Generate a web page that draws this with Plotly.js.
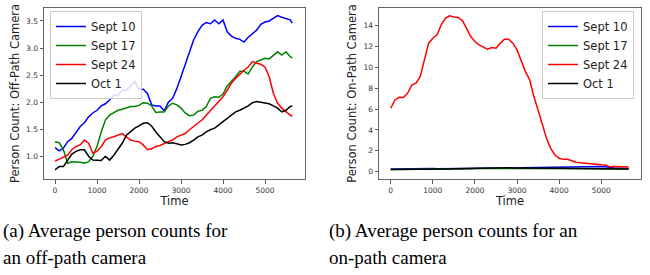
<!DOCTYPE html>
<html><head><meta charset="utf-8">
<script src="https://cdn.plot.ly/plotly-3.0.1.min.js"></script>
<style>html,body{margin:0;padding:0;background:#fff;}#chart{width:650px;height:275px;}</style>
</head><body><div id="chart"></div>
<script>
// Time axis (shared by all series)
const time = [0,100,200,300,400,500,600,700,800,900,1000,1100,1200,1300,1400,1500,1600,1700,1800,1900,2000,2100,2200,2300,2400,2500,2600,2700,2800,2900,3000,3100,3200,3300,3400,3500,3600,3700,3800,3900,4000,4100,4200,4300,4400,4500,4600,4700,4800,4900,5000,5100,5200,5300,5400,5500,5600,5650];
const seriesNames = ["Sept 10","Sept 17","Sept 24","Oct 1"];

// (a) off-path camera
const offSept10 = [1.16,1.10,1.15,1.27,1.33,1.45,1.55,1.62,1.73,1.80,1.85,1.93,1.97,2.04,2.13,2.12,2.22,2.22,2.30,2.38,2.24,2.24,2.16,1.95,1.93,1.93,1.84,2.00,2.07,2.25,2.47,2.69,2.90,3.15,3.30,3.42,3.47,3.45,3.52,3.45,3.52,3.30,3.22,3.18,3.16,3.11,3.20,3.27,3.33,3.44,3.48,3.50,3.55,3.60,3.57,3.55,3.52,3.46];
const offSept17 = [1.27,1.25,1.12,0.87,0.90,0.90,0.89,0.87,0.90,1.00,1.18,1.45,1.67,1.76,1.81,1.85,1.87,1.90,1.92,1.92,1.94,1.99,1.98,1.93,1.81,1.82,1.82,1.93,1.98,1.95,1.89,1.80,1.75,1.76,1.83,1.85,1.92,2.07,2.10,2.09,2.15,2.30,2.38,2.47,2.57,2.57,2.52,2.65,2.75,2.78,2.81,2.80,2.87,2.93,2.87,2.93,2.84,2.82];
const offSept24 = [0.91,0.95,0.99,1.02,1.12,1.18,1.21,1.30,1.24,1.06,1.09,1.18,1.30,1.34,1.36,1.39,1.42,1.36,1.30,1.28,1.27,1.21,1.12,1.14,1.18,1.20,1.24,1.27,1.30,1.36,1.39,1.42,1.49,1.55,1.60,1.67,1.76,1.85,1.93,2.01,2.10,2.22,2.35,2.44,2.52,2.59,2.65,2.75,2.72,2.70,2.65,2.47,2.16,1.98,1.89,1.82,1.76,1.74];
const offOct1 = [0.75,0.81,0.81,0.93,1.04,1.09,1.12,1.12,1.00,0.93,0.93,0.92,1.00,0.93,1.02,1.12,1.24,1.39,1.45,1.52,1.56,1.61,1.62,1.56,1.45,1.36,1.27,1.24,1.25,1.23,1.21,1.22,1.25,1.30,1.36,1.39,1.45,1.49,1.52,1.58,1.64,1.70,1.76,1.82,1.85,1.89,1.93,1.99,2.01,2.00,1.99,1.97,1.93,1.89,1.82,1.85,1.92,1.93];

// (b) on-path camera
const onSept10 = [0.25,0.26,0.27,0.27,0.28,0.28,0.29,0.29,0.30,0.30,0.30,0.29,0.29,0.30,0.30,0.31,0.31,0.31,0.32,0.32,0.33,0.33,0.33,0.34,0.34,0.34,0.35,0.35,0.36,0.36,0.36,0.37,0.38,0.39,0.40,0.41,0.42,0.42,0.43,0.43,0.44,0.45,0.46,0.47,0.47,0.47,0.47,0.48,0.48,0.49,0.49,0.48,0.40,0.35,0.33,0.31,0.30,0.30];
const onSept17 = [0.22,0.22,0.22,0.22,0.22,0.23,0.23,0.23,0.23,0.24,0.24,0.24,0.25,0.25,0.26,0.26,0.27,0.27,0.28,0.29,0.30,0.30,0.30,0.30,0.31,0.31,0.31,0.31,0.31,0.31,0.32,0.32,0.32,0.32,0.32,0.32,0.32,0.32,0.32,0.32,0.32,0.32,0.32,0.32,0.32,0.32,0.32,0.32,0.31,0.31,0.31,0.30,0.30,0.29,0.29,0.28,0.28,0.28];
const onSept24 = [6.07,6.87,7.12,7.10,7.50,8.30,8.47,9.10,10.7,12.3,12.78,13.1,14.06,14.7,14.92,14.8,14.76,14.47,13.74,12.94,12.46,12.14,11.92,11.73,11.88,11.82,12.3,12.68,12.68,12.3,11.66,10.54,9.58,8.79,7.19,5.91,4.63,3.19,2.24,1.60,1.28,1.18,1.18,1.05,0.90,0.85,0.80,0.75,0.70,0.68,0.67,0.65,0.48,0.50,0.47,0.46,0.45,0.45];
const onOct1 = [0.20,0.20,0.20,0.19,0.19,0.19,0.19,0.20,0.20,0.21,0.22,0.23,0.24,0.25,0.26,0.27,0.28,0.30,0.32,0.33,0.35,0.36,0.37,0.37,0.38,0.38,0.38,0.38,0.37,0.36,0.35,0.34,0.33,0.33,0.33,0.33,0.33,0.33,0.33,0.33,0.33,0.33,0.32,0.32,0.32,0.32,0.31,0.31,0.31,0.30,0.30,0.29,0.28,0.27,0.26,0.25,0.25,0.25];

const captionA = ["(a) Average person counts for", "an off-path camera"];
const captionB = ["(b) Average person counts for an", "on-path camera"];

const colors = ["#0000ff","#008000","#ff0000","#000000"];
const offData = [offSept10, offSept17, offSept24, offOct1];
const onData = [onSept10, onSept17, onSept24, onOct1];

const traces = [];
offData.forEach((ys,i)=>traces.push({x:time,y:ys,type:"scatter",mode:"lines",name:seriesNames[i],
  line:{color:colors[i],width:1.5},xaxis:"x",yaxis:"y",legend:"legend"}));
onData.forEach((ys,i)=>traces.push({x:time,y:ys,type:"scatter",mode:"lines",name:seriesNames[i],
  line:{color:colors[i],width:1.5},xaxis:"x2",yaxis:"y2",legend:"legend2"}));

const tickFont = {family:"DejaVu Sans", size:7.5, color:"#333"};
const titleFont = {family:"DejaVu Sans", size:11.5, color:"#222"};
const axBase = {showline:true, mirror:true, linecolor:"#666", linewidth:1, ticks:"outside", ticklen:3.5,
  tickcolor:"#333", tickwidth:0.8, showgrid:false, zeroline:false, tickfont:tickFont};
const legBase = {bgcolor:"rgba(255,255,255,0.85)", bordercolor:"#ccc", borderwidth:1,
  font:{family:"DejaVu Sans", size:11.5, color:"#222"}, tracegroupgap:0, itemwidth:30};

const H = 275, W = 650;
const capFont = {family:"Liberation Serif", size:19, color:"#000"};
function cap(text, x, y){
  return {text:text, xref:"paper", yref:"paper", x:x/W, y:(H-y)/H, xanchor:"left", yanchor:"middle",
    align:"left", showarrow:false, font:capFont};
}
const layout = {
  width:W, height:H, margin:{l:0,r:0,t:0,b:0}, paper_bgcolor:"#fff", plot_bgcolor:"#fff",
  showlegend:true,
  xaxis:Object.assign({}, axBase, {domain:[44/W,305/W], range:[-262,5952], tickvals:[0,1000,2000,3000,4000,5000],
    title:{text:"Time", font:titleFont, standoff:1}, anchor:"y"}),
  yaxis:Object.assign({}, axBase, {domain:[(H-179)/H,(H-8)/H], range:[0.58,3.74], tickvals:[1.0,1.5,2.0,2.5,3.0,3.5],
    ticktext:["1.0","1.5","2.0","2.5","3.0","3.5"], title:{text:"Person Count: Off-Path Camera", font:titleFont, standoff:4}, anchor:"x"}),
  xaxis2:Object.assign({}, axBase, {domain:[379/W,641/W], range:[-279,5945], tickvals:[0,1000,2000,3000,4000,5000],
    title:{text:"Time", font:titleFont, standoff:1}, anchor:"y2"}),
  yaxis2:Object.assign({}, axBase, {domain:[(H-179)/H,(H-8)/H], range:[-0.70,15.67], tickvals:[0,2,4,6,8,10,12,14],
    title:{text:"Person Count: On-Path Camera", font:titleFont, standoff:4}, anchor:"x2"}),
  legend:Object.assign({}, legBase, {x:50/W, y:(H-11)/H, xanchor:"left", yanchor:"top", xref:"paper", yref:"paper"}),
  legend2:Object.assign({}, legBase, {x:634/W, y:(H-11)/H, xanchor:"right", yanchor:"top", xref:"paper", yref:"paper"}),
  annotations:[cap(captionA[0],1,231), cap(captionA[1],1,257), cap(captionB[0],327,231), cap(captionB[1],327,257)]
};
Plotly.newPlot("chart", traces, layout, {staticPlot:true, displayModeBar:false});
</script>
</body></html>
